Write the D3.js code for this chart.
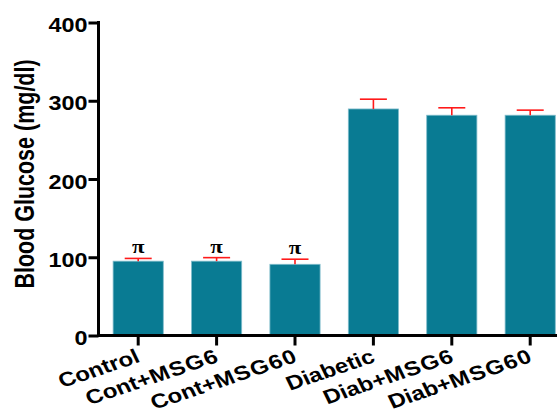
<!DOCTYPE html>
<html>
<head>
<meta charset="utf-8">
<script src="https://cdn.jsdelivr.net/npm/d3@7/dist/d3.min.js"></script>
<style>
  html, body { margin: 0; padding: 0; background: #fff; }
  svg { display: block; }
  text { font-family: "Liberation Sans", Arial, sans-serif; font-weight: bold; fill: #000; }
</style>
</head>
<body>
<svg id="chart" width="558" height="411"></svg>
<script>
// Blood glucose per group (mean and SEM, mg/dl)
const groups = ["Control", "Cont+MSG6", "Cont+MSG60", "Diabetic", "Diab+MSG6", "Diab+MSG60"];
const means = [95, 95, 91, 289.5, 281.5, 281.5];
const sems = [3.5, 4.5, 6.5, 12.5, 9.5, 6.5];
const marks = ["π", "π", "π", "", "", ""];
const yTicks = [0, 100, 200, 300, 400];

const svg = d3.select("#chart");
const stretch = 1.2;           // wide lettering used throughout
const barColor = "#097b93";
const errColor = "#ff1a1a";

const x = d3.scaleBand()
  .domain(groups)
  .range([99, 569.4])
  .paddingInner(0.36)
  .paddingOuter(0.18);

const y = d3.scaleLinear().domain([0, 400]).range([335.5, 22.5]);

// bars
svg.append("g").selectAll("rect")
  .data(groups)
  .join("rect")
  .attr("x", d => x(d))
  .attr("width", x.bandwidth())
  .attr("y", (d, i) => y(means[i]))
  .attr("height", (d, i) => y(0) - y(means[i]))
  .attr("fill", barColor)
  .attr("stroke", "#7fbccb")
  .attr("stroke-width", 0.8);

// error bars (upper half only)
const capHalf = 13.5;
const err = svg.append("g").attr("stroke", errColor).attr("stroke-width", 1.6);
groups.forEach((g, i) => {
  const cx = x(g) + x.bandwidth() / 2;
  err.append("line")
    .attr("x1", cx).attr("x2", cx)
    .attr("y1", y(means[i])).attr("y2", y(means[i] + sems[i]));
  err.append("line")
    .attr("x1", cx - capHalf).attr("x2", cx + capHalf)
    .attr("y1", y(means[i] + sems[i])).attr("y2", y(means[i] + sems[i]));
});

// significance symbols
svg.append("g").selectAll("text")
  .data(groups)
  .join("text")
  .attr("transform", (d, i) => `translate(${x(d) + x.bandwidth() / 2},${y(means[i] + sems[i]) - 5}) scale(${stretch},1)`)
  .attr("text-anchor", "middle")
  .style("font-family", "'Liberation Serif', 'Times New Roman', serif")
  .style("font-weight", "bold")
  .style("font-size", "19px")
  .style("fill", "#000")
  .text((d, i) => marks[i]);

// y axis
const yAxis = svg.append("g")
  .attr("transform", "translate(98.5,0)")
  .call(d3.axisLeft(y).tickValues(yTicks).tickSize(10).tickPadding(0).tickSizeOuter(0));
yAxis.select(".domain").attr("stroke", "#000").attr("stroke-width", 3)
  .attr("d", `M0,${y(400) - 1.5}V${y(0) + 1.5}`);
yAxis.selectAll(".tick line").attr("stroke", "#000").attr("stroke-width", 3);
yAxis.selectAll(".tick text")
  .attr("x", null).attr("dy", null)
  .attr("transform", `translate(-11,9) scale(${stretch},1)`)
  .attr("text-anchor", "end")
  .style("font-size", "19.5px")
  .style("font-family", "'Liberation Sans', Arial, sans-serif")
  .style("font-weight", "bold");

// x axis
const xAxis = svg.append("g")
  .attr("transform", `translate(0,${y(0)})`)
  .call(d3.axisBottom(x).tickSize(10).tickPadding(0).tickSizeOuter(0));
xAxis.select(".domain").attr("stroke", "#000").attr("stroke-width", 3)
  .attr("d", "M97,0H557");
xAxis.selectAll(".tick line").attr("stroke", "#000").attr("stroke-width", 3);

// category labels: the "MSG.." part is set slightly looser
xAxis.selectAll(".tick text").each(function (d) {
  const t = d3.select(this);
  t.text(null)
    .attr("y", null).attr("dy", null)
    .attr("transform", `translate(3,26) scale(${stretch},1) rotate(-22)`)
    .attr("text-anchor", "end")
    .style("font-size", "20px")
    .style("font-family", "'Liberation Sans', Arial, sans-serif")
    .style("font-weight", "bold");
  const k = d.indexOf("+");
  if (k < 0) {
    t.append("tspan").text(d);
  } else {
    t.append("tspan").text(d.slice(0, k + 1));
    t.append("tspan").style("letter-spacing", "1px").text(d.slice(k + 1, -1));
    t.append("tspan").text(d.slice(-1));
  }
});

// y axis title
svg.append("text")
  .attr("transform", `translate(33.5,174) scale(1.3,1) rotate(-90)`)
  .attr("text-anchor", "middle")
  .style("font-size", "21.5px")
  .text("Blood Glucose (mg/dl)");
</script>
</body>
</html>
